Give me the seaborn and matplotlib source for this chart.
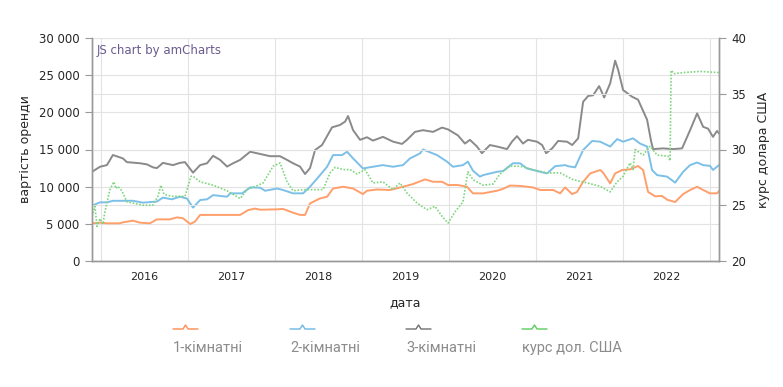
import pandas as pd
import numpy as np
import matplotlib
matplotlib.use("Agg")
import matplotlib.pyplot as plt
from matplotlib.lines import Line2D
import seaborn as sns

# time points are fractional years
t_grey = [2015.897, 2015.989, 2016.069, 2016.138, 2016.253, 2016.299, 2016.448, 2016.529, 2016.598, 2016.644,
          2016.713, 2016.828, 2016.908, 2016.966, 2017.057, 2017.138, 2017.218, 2017.287, 2017.368, 2017.448,
          2017.517, 2017.598, 2017.713, 2017.828, 2017.943, 2018.057, 2018.138, 2018.207, 2018.287, 2018.345,
          2018.402, 2018.460, 2018.540, 2018.655, 2018.747, 2018.805, 2018.839, 2018.897, 2018.977, 2019.057,
          2019.126, 2019.241, 2019.356, 2019.460, 2019.517, 2019.609, 2019.701, 2019.816, 2019.920, 2019.989,
          2020.103, 2020.184, 2020.241, 2020.322, 2020.379, 2020.471, 2020.552, 2020.621, 2020.667, 2020.724,
          2020.782, 2020.851, 2020.908, 2021.011, 2021.069, 2021.115, 2021.184, 2021.253, 2021.356, 2021.414,
          2021.483, 2021.540, 2021.598, 2021.655, 2021.724, 2021.782, 2021.851, 2021.908, 2021.943, 2022.000,
          2022.103, 2022.172, 2022.276, 2022.322, 2022.345, 2022.460, 2022.575, 2022.678, 2022.770, 2022.851,
          2022.920, 2022.977, 2023.034, 2023.080, 2023.103]
rooms3 = [12000, 12680, 12900, 14260, 13800, 13300, 13150, 13000, 12600, 12500,
          13200, 12900, 13200, 13300, 11880, 12900, 13150, 14150, 13600, 12700,
          13150, 13600, 14700, 14400, 14100, 14100, 13600, 13150, 12700, 11700,
          12500, 14930, 15600, 17980, 18300, 18750, 19500, 17600, 16300, 16650,
          16200, 16700, 16060, 15750, 16300, 17370, 17600, 17370, 17950, 17700,
          16900, 15800, 16300, 15400, 14500, 15600, 15400, 15200, 15050, 16050,
          16800, 15800, 16300, 16050, 15600, 14500, 15150, 16150, 16050, 15600,
          16500, 21420, 22200, 22300, 23530, 22000, 23900, 26950, 25700, 23000,
          22100, 21700, 19000, 16100, 15050, 15150, 15050, 15150, 17600, 19860,
          18050, 17800, 16700, 17500, 17150]

t_blue = [2015.897, 2015.989, 2016.069, 2016.138, 2016.368, 2016.483, 2016.644, 2016.713, 2016.816, 2016.908,
          2016.989, 2017.057, 2017.138, 2017.218, 2017.287, 2017.448, 2017.483, 2017.621, 2017.713, 2017.828,
          2017.885, 2018.023, 2018.092, 2018.207, 2018.322, 2018.402, 2018.517, 2018.598, 2018.667, 2018.770,
          2018.828, 2018.897, 2019.011, 2019.126, 2019.241, 2019.356, 2019.471, 2019.552, 2019.667, 2019.701,
          2019.862, 2019.977, 2020.046, 2020.161, 2020.218, 2020.276, 2020.356, 2020.391, 2020.552, 2020.621,
          2020.736, 2020.816, 2020.897, 2021.046, 2021.126, 2021.218, 2021.333, 2021.368, 2021.448, 2021.540,
          2021.644, 2021.736, 2021.851, 2021.931, 2022.000, 2022.115, 2022.195, 2022.276, 2022.333, 2022.391,
          2022.506, 2022.598, 2022.690, 2022.770, 2022.851, 2022.920, 2023.000, 2023.034, 2023.103]
rooms2 = [7440, 7890, 7890, 8100, 8100, 7850, 8000, 8530, 8300, 8650,
          8400, 7180, 8200, 8300, 8860, 8650, 9100, 9100, 9900, 9860,
          9450, 9750, 9550, 9100, 9100, 9990, 11550, 12680, 14250, 14250,
          14700, 13800, 12450, 12680, 12900, 12680, 12900, 13800, 14480, 15000,
          14250, 13370, 12680, 12900, 13370, 12150, 11350, 11550, 12000, 12100,
          13150, 13150, 12450, 12000, 11780, 12750, 12900, 12750, 12600, 14930,
          16150, 16050, 15400, 16400, 16050, 16500, 15800, 15400, 12240, 11550,
          11350, 10540, 12000, 12900, 13250, 12900, 12800, 12250, 12900]

t_orange = [2015.897, 2015.989, 2016.069, 2016.218, 2016.253, 2016.368, 2016.448, 2016.563, 2016.644, 2016.793,
            2016.874, 2016.943, 2017.023, 2017.080, 2017.138, 2017.598, 2017.690, 2017.770, 2017.828, 2018.023,
            2018.092, 2018.207, 2018.287, 2018.345, 2018.402, 2018.517, 2018.598, 2018.667, 2018.782, 2018.897,
            2019.011, 2019.057, 2019.172, 2019.322, 2019.471, 2019.586, 2019.724, 2019.816, 2019.920, 2019.989,
            2020.103, 2020.207, 2020.276, 2020.391, 2020.552, 2020.621, 2020.701, 2020.816, 2020.966, 2021.046,
            2021.195, 2021.276, 2021.333, 2021.414, 2021.471, 2021.540, 2021.621, 2021.736, 2021.770, 2021.851,
            2021.908, 2021.989, 2022.080, 2022.172, 2022.230, 2022.287, 2022.368, 2022.448, 2022.506, 2022.598,
            2022.690, 2022.770, 2022.851, 2022.920, 2023.000, 2023.080, 2023.103]
rooms1 = [5070, 5160, 5070, 5070, 5200, 5430, 5160, 5070, 5600, 5600,
          5870, 5750, 4980, 5300, 6200, 6200, 6850, 7050, 6900, 6950,
          7000, 6500, 6200, 6200, 7750, 8420, 8650, 9750, 9990, 9750,
          9000, 9450, 9620, 9550, 9990, 10350, 10980, 10660, 10660, 10220,
          10220, 9990, 9100, 9100, 9450, 9700, 10150, 10100, 9900, 9550,
          9550, 9100, 9900, 9000, 9300, 10660, 11780, 12240, 11880, 10440,
          11780, 12240, 12330, 12780, 12240, 9300, 8700, 8750, 8250, 7930,
          9000, 9550, 9990, 9550, 9100, 9100, 9400]

t_usd = [2015.897, 2015.931, 2015.954, 2015.989, 2016.023, 2016.046, 2016.103, 2016.149, 2016.172, 2016.195,
         2016.241, 2016.299, 2016.368, 2016.483, 2016.598, 2016.655, 2016.690, 2016.724, 2016.759, 2016.828,
         2016.908, 2016.966, 2017.034, 2017.057, 2017.138, 2017.287, 2017.448, 2017.598, 2017.678, 2017.747,
         2017.862, 2017.977, 2018.057, 2018.138, 2018.207, 2018.322, 2018.483, 2018.552, 2018.632, 2018.690,
         2018.782, 2018.862, 2018.943, 2019.034, 2019.126, 2019.241, 2019.356, 2019.437, 2019.517, 2019.632,
         2019.747, 2019.839, 2019.920, 2019.989, 2020.069, 2020.161, 2020.218, 2020.276, 2020.391, 2020.506,
         2020.586, 2020.701, 2020.816, 2020.966, 2021.126, 2021.276, 2021.425, 2021.586, 2021.736, 2021.851,
         2021.931, 2022.000, 2022.080, 2022.115, 2022.138, 2022.230, 2022.310, 2022.391, 2022.517, 2022.540,
         2022.552, 2022.586, 2022.690, 2022.885, 2023.103]
usd = [24.0, 24.9, 23.1, 23.8, 23.3, 24.4, 26.4, 27.1, 26.5, 26.7,
       26.3, 25.3, 25.2, 25.0, 25.0, 25.8, 26.8, 26.0, 25.9, 25.8,
       25.8, 25.8, 27.6, 27.6, 27.1, 26.8, 26.3, 25.6, 26.4, 26.6,
       27.0, 28.5, 28.8, 27.1, 26.3, 26.4, 26.4, 26.4, 27.9, 28.4,
       28.2, 28.2, 27.8, 28.2, 27.0, 27.1, 26.4, 27.0, 26.1, 25.2,
       24.6, 24.9, 24.0, 23.4, 24.4, 25.3, 28.0, 27.3, 26.8, 26.9,
       27.8, 28.5, 28.5, 28.2, 27.9, 27.9, 27.3, 27.0, 26.7, 26.2,
       27.1, 27.6, 28.8, 28.2, 30.0, 29.5, 30.3, 29.5, 29.4, 29.0,
       37.1, 36.8, 36.9, 37.0, 36.9]

labels = ["1-кімнатні", "2-кімнатні", "3-кімнатні", "курс дол. США"]
colors = ["#ff9f6b", "#7cc0e8", "#8a8a8a", "#7fd67f"]
legend_colors = ["#ff8c4f", "#6cb6e6", "#707070", "#5ccc5c"]
year_labels = [2016, 2017, 2018, 2019, 2020, 2021, 2022]


def to_dates(ts):
    base = pd.to_datetime([f"{int(t)}-01-01" for t in ts])
    return base + pd.to_timedelta([(t - int(t)) * 365.25 for t in ts], unit="D")


sns.set_style("white")
plt.rcParams["font.family"] = ["DejaVu Sans"]

fig = plt.figure(figsize=(7.83, 3.87), dpi=100)
ax = fig.add_axes([92 / 783, 1 - 261 / 387, 627 / 783, 223 / 387])
ax2 = ax.twinx()

grid_c = "#e3e3e3"
for v in range(0, 30001, 5000):
    ax.axhline(v, color=grid_c, lw=0.8, zorder=0)
for v in range(20, 41, 5):
    ax2.axhline(v, color=grid_c, lw=0.8, zorder=0)

sns.lineplot(x=to_dates(t_orange), y=rooms1, ax=ax, color=colors[0], lw=1.4, estimator=None)
sns.lineplot(x=to_dates(t_blue), y=rooms2, ax=ax, color=colors[1], lw=1.4, estimator=None)
sns.lineplot(x=to_dates(t_grey), y=rooms3, ax=ax, color=colors[2], lw=1.4, estimator=None)
sns.lineplot(x=to_dates(t_usd), y=usd, ax=ax2, color=colors[3], lw=1.2, estimator=None,
             linestyle=(0, (1, 1)))

ax.set_ylim(0, 30000)
ax2.set_ylim(20, 40)
ax.set_xlim(to_dates([t_grey[0]])[0], to_dates([t_grey[-1]])[0])

years = pd.to_datetime([f"{y}-01-01" for y in range(2016, 2024)])
mids = pd.to_datetime([f"{y}-07-01" for y in year_labels])
ax.set_xticks(years)
ax.set_xticklabels([""] * len(years))
ax.set_xticks(mids, minor=True)
ax.set_xticklabels([str(y) for y in year_labels], minor=True, fontsize=8)
ax.tick_params(axis="x", which="minor", length=0, pad=8)
ax.tick_params(axis="x", which="major", length=5, width=0.8, color="#999999", direction="out")
for y in years:
    ax.axvline(y, color=grid_c, lw=0.8, zorder=0)

ax.set_yticks(range(0, 30001, 5000))
ax.set_yticklabels([f"{v:,}".replace(",", " ") for v in range(0, 30001, 5000)], fontsize=8.5)
ax2.set_yticks(range(20, 41, 5))
ax2.set_yticklabels([str(v) for v in range(20, 41, 5)], fontsize=8.5)
ax.tick_params(axis="y", length=5, width=0.8, color="#999999", pad=4)
ax2.tick_params(axis="y", length=5, width=0.8, color="#999999", pad=4)

ax.set_xlabel("дата", fontsize=9, labelpad=10)
ax.set_ylabel("вартість оренди", fontsize=9, labelpad=5)
ax2.set_ylabel("курс долара США", fontsize=9, labelpad=8, rotation=90)

for a in (ax, ax2):
    a.spines["top"].set_visible(False)
    for s in ("left", "right", "bottom"):
        a.spines[s].set_color("#999999")
        a.spines[s].set_linewidth(1)
    a.grid(False)

ax.text(0.007, 0.945, "JS chart by amCharts", transform=ax.transAxes, fontsize=8.5,
        color="#6b5b8f", va="center", ha="left")

# legend: little line with a bump above each label
legend_x = [173, 290, 406, 522]
for x0, lab, c in zip(legend_x, labels, legend_colors):
    xs = np.array([x0, x0 + 10, x0 + 12.5, x0 + 15, x0 + 25]) / 783
    ys = 1 - np.array([329, 329, 325, 329, 329]) / 387
    fig.add_artist(Line2D(xs, ys, color=c, lw=1.0, transform=fig.transFigure))
    fig.text(x0 / 783, 1 - 348 / 387, lab, fontsize=10.5, color="#8c8c8c", va="center", ha="left",
             family=["Roboto", "DejaVu Sans"])

fig.savefig("out.png", dpi=100)
